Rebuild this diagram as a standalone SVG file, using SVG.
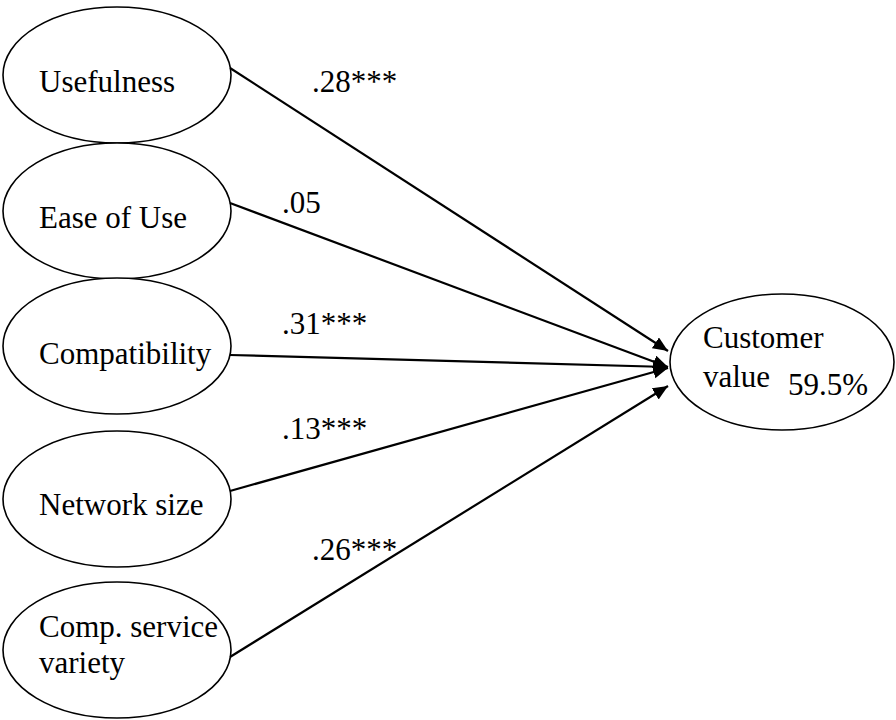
<svg xmlns="http://www.w3.org/2000/svg" width="896" height="720" viewBox="0 0 896 720" font-family="'Liberation Serif', Tinos, 'Times New Roman', Times, 'DejaVu Serif', serif">
<style>
.node ellipse{fill:#fff;stroke:#000;stroke-width:1.6}
text{font-family:'Liberation Serif', Tinos, 'Times New Roman', Times, 'DejaVu Serif', serif;font-size:31px;fill:#000}
.edge line{stroke:#000;stroke-width:2.2;marker-end:url(#arr)}
</style>
<defs>
<marker id="arr" markerUnits="userSpaceOnUse" markerWidth="16" markerHeight="14" refX="15" refY="6.5" orient="auto">
<path d="M0,0 L15,6.5 L0,13 z" fill="#000"/>
</marker>
</defs>
<rect width="896" height="720" fill="#fff"/>
<g id="n-usefulness" class="node"><ellipse cx="117" cy="75" rx="114" ry="68"/><text x="39" y="92">Usefulness</text></g>
<g id="n-ease" class="node"><ellipse cx="117" cy="211" rx="114" ry="68"/><text x="39" y="228">Ease of Use</text></g>
<g id="n-compat" class="node"><ellipse cx="117" cy="346" rx="114" ry="68"/><text x="39" y="364">Compatibility</text></g>
<g id="n-network" class="node"><ellipse cx="117" cy="499" rx="114" ry="68"/><text x="39" y="515">Network size</text></g>
<g id="n-service" class="node"><ellipse cx="117" cy="650" rx="114" ry="68"/><text x="39" y="637">Comp. service</text><text x="39" y="673">variety</text></g>
<g id="n-customer" class="node"><ellipse cx="782" cy="362" rx="112" ry="68"/><text x="703" y="348">Customer</text><text x="703" y="387">value</text><text x="788" y="395">59.5%</text></g>
<g id="edges" class="edge">
<line x1="230" y1="68" x2="668" y2="351"/>
<line x1="230" y1="203" x2="668" y2="367"/>
<line x1="230" y1="355" x2="668" y2="367"/>
<line x1="230" y1="491" x2="668" y2="368"/>
<line x1="230" y1="657" x2="668" y2="386"/>
</g>
<g id="edge-labels">
<text x="312" y="92">.28***</text>
<text x="282" y="213">.05</text>
<text x="282" y="334">.31***</text>
<text x="282" y="439">.13***</text>
<text x="312" y="560">.26***</text>
</g>
</svg>
